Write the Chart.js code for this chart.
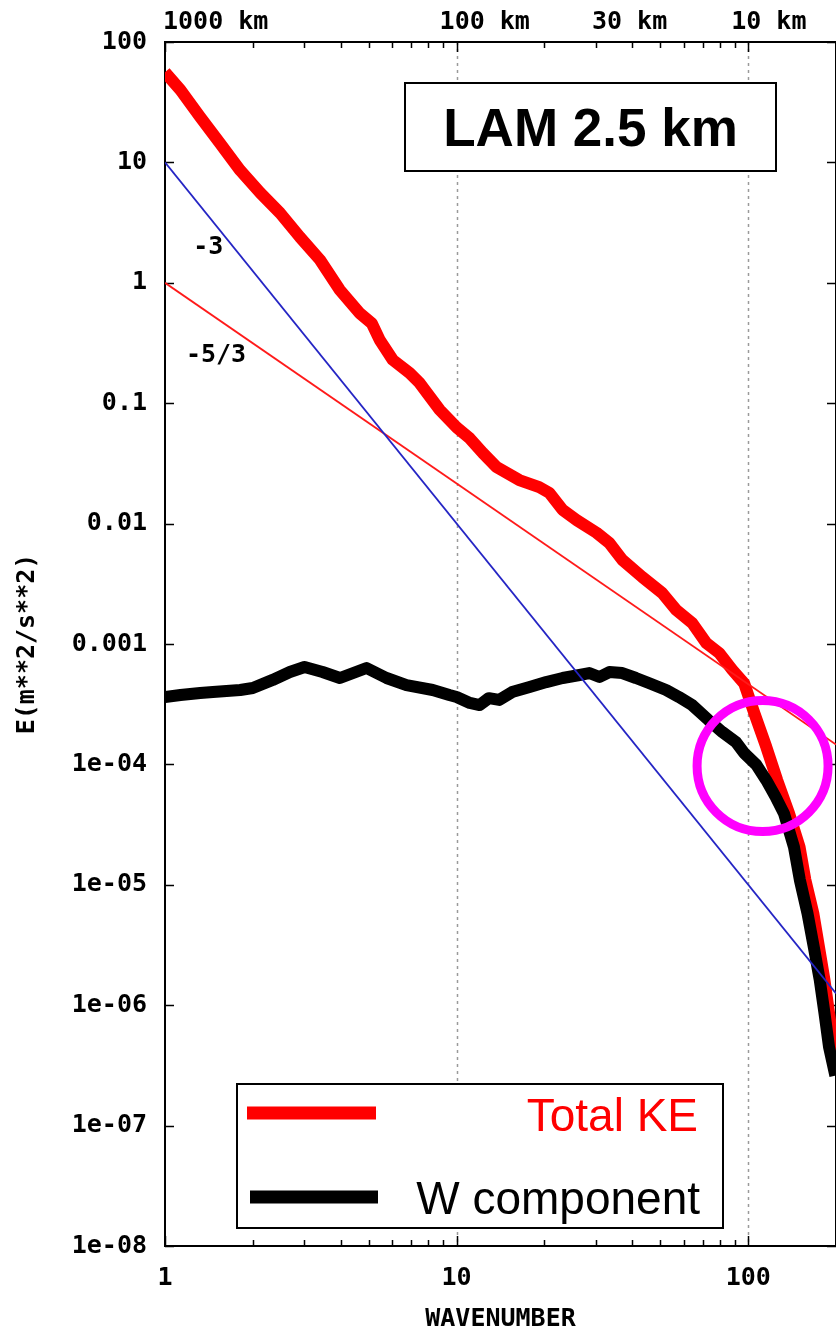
<!DOCTYPE html>
<html>
<head>
<meta charset="utf-8">
<title>LAM 2.5 km energy spectrum</title>
<script src="https://cdn.jsdelivr.net/npm/chart.js@4.4.1/dist/chart.umd.min.js"></script>
<style>
  html, body { margin: 0; padding: 0; background: #fff; overflow: hidden; }
  #wrap { position: relative; width: 836px; height: 1332px; }
</style>
</head>
<body>
<div id="wrap"><canvas id="spectrum"></canvas></div>
<script>
// total kinetic energy spectrum
const keWavenumber = [1, 1.13, 1.32, 1.54, 1.81, 2.12, 2.48, 2.9, 3.4, 3.98, 4.65, 5.12, 5.45, 6.04, 6.9, 7.47, 8.75,
  10, 11.1, 12.3, 13.7, 16.4, 19.2, 20.8, 23.1, 25.8, 30.2, 33.4, 37, 43.3, 50.7, 56.6, 64.3, 71.8, 79.6, 88.2, 96.9,
  104.9, 115.3, 125.7, 138.1, 150, 157, 167.2, 175, 182.6, 189.3, 196, 199];
const keEnergy = [56, 40, 23.8, 14.5, 8.6, 5.6, 3.8, 2.4, 1.55, 0.87, 0.56, 0.46, 0.335, 0.229, 0.178, 0.147, 0.088,
  0.063, 0.051, 0.0386, 0.0295, 0.023, 0.0201, 0.018, 0.013, 0.0107, 0.0084, 0.0069, 0.005, 0.0036, 0.00265, 0.00192,
  0.00149, 0.00102, 0.00084, 0.00061, 0.00047, 2.67e-4, 1.4e-4, 7.4e-5, 3.9e-5, 2.06e-5, 1.1e-5, 5.8e-6, 3.0e-6,
  1.62e-6, 8.6e-7, 4.5e-7, 2.9e-7];

// vertical velocity component
const wWavenumber = [1, 1.13, 1.32, 1.46, 1.81, 2.0, 2.34, 2.68, 3.01, 3.47, 3.98, 4.91, 5.75, 6.73, 8.28, 9.44,
  10, 11.1, 12, 12.9, 14, 15.5, 17.8, 20.3, 23.1, 26.4, 28.5, 30.9, 33.4, 37, 41.2, 45.6, 52.3, 57.8, 64.3, 73,
  81.4, 90.8, 96.9, 106.7, 115.3, 124, 132.7, 143.5, 150.3, 159.7, 168, 175.9, 182.6, 189.3, 199];
const wEnergy = [3.63e-4, 3.77e-4, 3.92e-4, 3.99e-4, 4.15e-4, 4.31e-4, 5.03e-4, 5.85e-4, 6.44e-4, 5.85e-4, 5.22e-4,
  6.32e-4, 5.22e-4, 4.56e-4, 4.15e-4, 3.77e-4, 3.63e-4, 3.24e-4, 3.11e-4, 3.55e-4, 3.43e-4, 3.99e-4, 4.39e-4,
  4.83e-4, 5.22e-4, 5.53e-4, 5.74e-4, 5.32e-4, 5.85e-4, 5.74e-4, 5.22e-4, 4.74e-4, 4.15e-4, 3.63e-4, 3.1e-4,
  2.34e-4, 1.86e-4, 1.53e-4, 1.24e-4, 9.9e-5, 7.4e-5, 5.4e-5, 3.9e-5, 2.06e-5, 1.1e-5, 5.8e-6, 3.0e-6, 1.62e-6,
  8.6e-7, 4.5e-7, 2.6e-7];

// reference power laws, end points at both edges
const refWavenumber = [1, 200];
const refSlope3 = [10, 1.25e-6];
const refSlope53 = [1, 1.46e-4];

const xTickValues = [1, 10, 100];
const xTickLabels = ['1', '10', '100'];
const yTickValues = [1e-8, 1e-7, 1e-6, 1e-5, 1e-4, 0.001, 0.01, 0.1, 1, 10, 100];
const yTickLabels = ['1e-08', '1e-07', '1e-06', '1e-05', '1e-04', '0.001', '0.01', '0.1', '1', '10', '100'];
// wavelength marks along the top edge
const lengthTickValues = [1, 10, 33.3, 100];
const lengthTickLabels = ['1000 km', '100 km', '30 km', '10 km'];

const MONO = "'DejaVu Sans Mono', monospace";
const SANS = "'Liberation Sans', Arial, sans-serif";
const axisFont = { family: MONO, size: 25, weight: 'bold' };

const toPoints = (xs, ys) => xs.map((k, i) => ({ x: k, y: ys[i] }));

// gnuplot style frame: dotted grid, border and inward ticks on all sides
const framePlugin = {
  id: 'frame',
  beforeDatasetsDraw(chart) {
    const { ctx, chartArea: a, scales: { x, y } } = chart;
    ctx.save();
    ctx.strokeStyle = '#9a9a9a';
    ctx.lineWidth = 1.5;
    ctx.setLineDash([3, 4]);
    ctx.beginPath();
    xTickValues.filter(v => v > x.min && v < x.max).forEach(v => {
      const px = Math.round(x.getPixelForValue(v)) + 0.5;
      ctx.moveTo(px, a.top);
      ctx.lineTo(px, a.bottom);
    });
    ctx.stroke();
    ctx.setLineDash([]);

    ctx.strokeStyle = '#000';
    ctx.lineWidth = 2;
    ctx.strokeRect(a.left, a.top, a.right - a.left, a.bottom - a.top);

    ctx.lineWidth = 1.5;
    ctx.beginPath();
    for (let d = 1; d <= x.max; d *= 10) {
      for (let m = 1; m < 10; m++) {
        const v = m * d;
        if (v < x.min || v > x.max) continue;
        const px = Math.round(x.getPixelForValue(v)) + 0.5;
        const len = m === 1 ? 10 : 6;
        ctx.moveTo(px, a.bottom);
        ctx.lineTo(px, a.bottom - len);
        ctx.moveTo(px, a.top);
        ctx.lineTo(px, a.top + len);
      }
    }
    y.ticks.forEach(t => {
      const py = Math.round(y.getPixelForValue(t.value)) + 0.5;
      ctx.moveTo(a.left, py);
      ctx.lineTo(a.left + 9, py);
      ctx.moveTo(a.right, py);
      ctx.lineTo(a.right - 9, py);
    });
    ctx.stroke();
    ctx.restore();
  }
};

// title box, slope labels, highlight circle, legend and wavelength labels
const notesPlugin = {
  id: 'notes',
  afterDatasetsDraw(chart) {
    const { ctx, chartArea: a, scales: { x, y } } = chart;
    const ds = chart.data.datasets;
    ctx.save();

    // wavelength labels on top
    ctx.font = `bold 25px ${MONO}`;
    ctx.fillStyle = '#000';
    ctx.textAlign = 'left';
    ctx.textBaseline = 'middle';
    lengthTickValues.forEach((v, i) => {
      const px = Math.max(x.getPixelForValue(v) - 17, a.left - 2);
      ctx.fillText(lengthTickLabels[i], px, a.top - 20);
    });

    // slope labels
    ctx.fillText('-3', x.getPixelForValue(1.25), y.getPixelForValue(1.95));
    ctx.fillText('-5/3', x.getPixelForValue(1.18), y.getPixelForValue(0.25));

    // run title box
    ctx.fillStyle = '#fff';
    ctx.fillRect(405, 83, 371, 88);
    ctx.strokeStyle = '#000';
    ctx.lineWidth = 2;
    ctx.strokeRect(405, 83, 371, 88);
    ctx.fillStyle = '#000';
    ctx.font = `bold 53px ${SANS}`;
    ctx.textAlign = 'center';
    ctx.textBaseline = 'alphabetic';
    ctx.fillText('LAM 2.5 km', 590.5, 146);

    // highlight where the two spectra meet
    ctx.strokeStyle = '#ff00ff';
    ctx.lineWidth = 9;
    ctx.beginPath();
    ctx.arc(x.getPixelForValue(112), y.getPixelForValue(9.7e-5), 65.5, 0, Math.PI * 2);
    ctx.stroke();

    // legend
    ctx.fillStyle = '#fff';
    ctx.fillRect(237, 1084, 486, 144);
    ctx.strokeStyle = '#000';
    ctx.lineWidth = 2;
    ctx.strokeRect(237, 1084, 486, 144);
    ctx.lineWidth = 13;
    ctx.strokeStyle = ds[0].borderColor;
    ctx.beginPath();
    ctx.moveTo(247, 1113);
    ctx.lineTo(376, 1113);
    ctx.stroke();
    ctx.strokeStyle = ds[1].borderColor;
    ctx.beginPath();
    ctx.moveTo(250, 1197);
    ctx.lineTo(378, 1197);
    ctx.stroke();
    ctx.font = `46px ${SANS}`;
    ctx.textAlign = 'right';
    ctx.fillStyle = ds[0].borderColor;
    ctx.fillText(ds[0].label, 698, 1131);
    ctx.fillStyle = ds[1].borderColor;
    ctx.fillText(ds[1].label, 700, 1214);

    ctx.restore();
  }
};

new Chart(document.getElementById('spectrum'), {
  type: 'line',
  data: {
    datasets: [
      { label: 'Total KE', data: toPoints(keWavenumber, keEnergy), borderColor: '#ff0000', borderWidth: 12, order: 2 },
      { label: 'W component', data: toPoints(wWavenumber, wEnergy), borderColor: '#000000', borderWidth: 12, order: 1 },
      { label: '-3', data: toPoints(refWavenumber, refSlope3), borderColor: '#2525c4', borderWidth: 1.8, order: 0 },
      { label: '-5/3', data: toPoints(refWavenumber, refSlope53), borderColor: '#ff1a1a', borderWidth: 1.8, order: 0 }
    ]
  },
  options: {
    responsive: true,
    maintainAspectRatio: false,
    animation: false,
    layout: { padding: { top: 42, right: 0, bottom: 0, left: 0 } },
    elements: {
      point: { radius: 0 },
      line: { tension: 0, borderJoinStyle: 'round', fill: false }
    },
    plugins: { legend: { display: false }, tooltip: { enabled: false } },
    scales: {
      x: {
        type: 'logarithmic',
        position: 'bottom',
        min: 1,
        max: 200,
        afterBuildTicks: s => { s.ticks = xTickValues.map(v => ({ value: v })); },
        afterFit: s => { s.height = 86; },
        ticks: {
          autoSkip: false,
          maxRotation: 0,
          padding: 17,
          color: '#000',
          font: axisFont,
          callback: (v, i) => xTickLabels[i]
        },
        grid: { display: false, drawTicks: false },
        border: { display: false },
        title: {
          display: true,
          text: 'WAVENUMBER',
          color: '#000',
          font: { family: MONO, size: 25, weight: 'bold', lineHeight: 1 },
          padding: { top: 0, bottom: 0 }
        }
      },
      y: {
        type: 'logarithmic',
        position: 'left',
        min: 1e-8,
        max: 100,
        afterBuildTicks: s => { s.ticks = yTickValues.map(v => ({ value: v })); },
        afterFit: s => { s.width = 165; },
        ticks: {
          autoSkip: false,
          padding: 18,
          color: '#000',
          font: axisFont,
          callback: (v, i) => yTickLabels[i]
        },
        grid: { display: false, drawTicks: false },
        border: { display: false },
        title: {
          display: true,
          text: 'E(m**2/s**2)',
          color: '#000',
          font: { family: MONO, size: 25, weight: 'bold', lineHeight: 1 },
          padding: { top: 15, bottom: 0 }
        }
      }
    }
  },
  plugins: [framePlugin, notesPlugin]
});
</script>
</body>
</html>
